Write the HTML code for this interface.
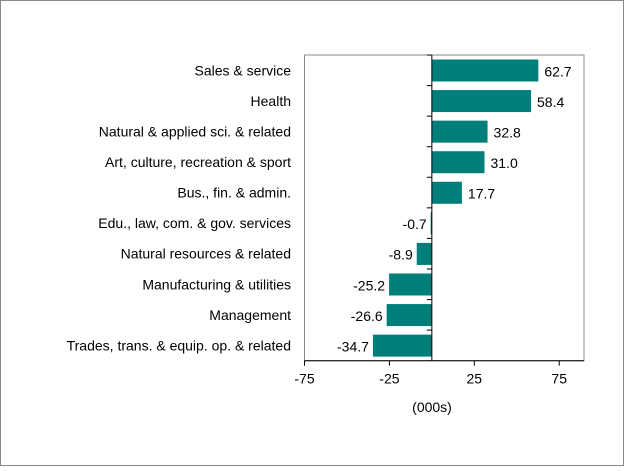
<!DOCTYPE html>
<html><head><meta charset="utf-8"><style>
body{margin:0;background:#fff}
svg text{font-family:"Liberation Sans",Arial,sans-serif;font-size:14px;fill:#000}
</style></head><body>
<svg id="chart" width="624" height="466" xmlns="http://www.w3.org/2000/svg">
<rect x="0.5" y="0.5" width="623" height="465" fill="#fff" stroke="#888"/>
<rect x="304.5" y="55" width="279.5" height="305.7" fill="#fff" stroke="#888"/>
<g id="marks"></g>
<text x="432" y="412" text-anchor="middle">(000s)</text>
</svg>
<script>
const categories=["Sales & service","Health","Natural & applied sci. & related","Art, culture, recreation & sport","Bus., fin. & admin.","Edu., law, com. & gov. services","Natural resources & related","Manufacturing & utilities","Management","Trades, trans. & equip. op. & related"];
const values=[62.7,58.4,32.8,31.0,17.7,-0.7,-8.9,-25.2,-26.6,-34.7];
const ticks=[-75,-25,25,75];
const xMin=-75,xMax=89.6;
const L=304.5,R=584,T=55,B=360.7;
const x=v=>L+(v-xMin)/(xMax-xMin)*(R-L);
const band=(B-T)/categories.length;
const y=i=>T+i*band;
const ns="http://www.w3.org/2000/svg";
const g=document.getElementById('marks');
function mk(t,a){const e=document.createElementNS(ns,t);for(const k in a)e.setAttribute(k,a[k]);g.appendChild(e);return e;}
categories.forEach((c,i)=>{
 const v=values[i];const x0=x(0),x1=x(v);
 const b=mk('rect',{x:Math.min(x0,x1),y:y(i)+4.5,width:Math.abs(x1-x0),height:22,fill:'#007f7a'});
 
 
 const cl=mk('text',{x:291,y:y(i)+band/2+5,'text-anchor':'end'});cl.textContent=c;
 
 
 const vl=mk('text',{x:v>=0?x1+6:x1-4,y:y(i)+band/2+6,'text-anchor':v>=0?'start':'end'});vl.textContent=v.toFixed(1);
 
 
 const tk=mk('line',{x1:x(0)-5,x2:x(0),y1:y(i),y2:y(i),stroke:'#000'});
 
 
});
const za=mk('line',{x1:x(0),x2:x(0),y1:T,y2:B,stroke:'#000'});


const xa=mk('line',{x1:L,x2:R,y1:B,y2:B,stroke:'#000'});


ticks.forEach(t=>{
 const l=mk('line',{x1:x(t),x2:x(t),y1:B,y2:B+5,stroke:'#000'});
 
 
 const tl=mk('text',{x:x(t),y:B+23,'text-anchor':'middle'});tl.textContent=t;
 
 
});
</script>
</body></html>
